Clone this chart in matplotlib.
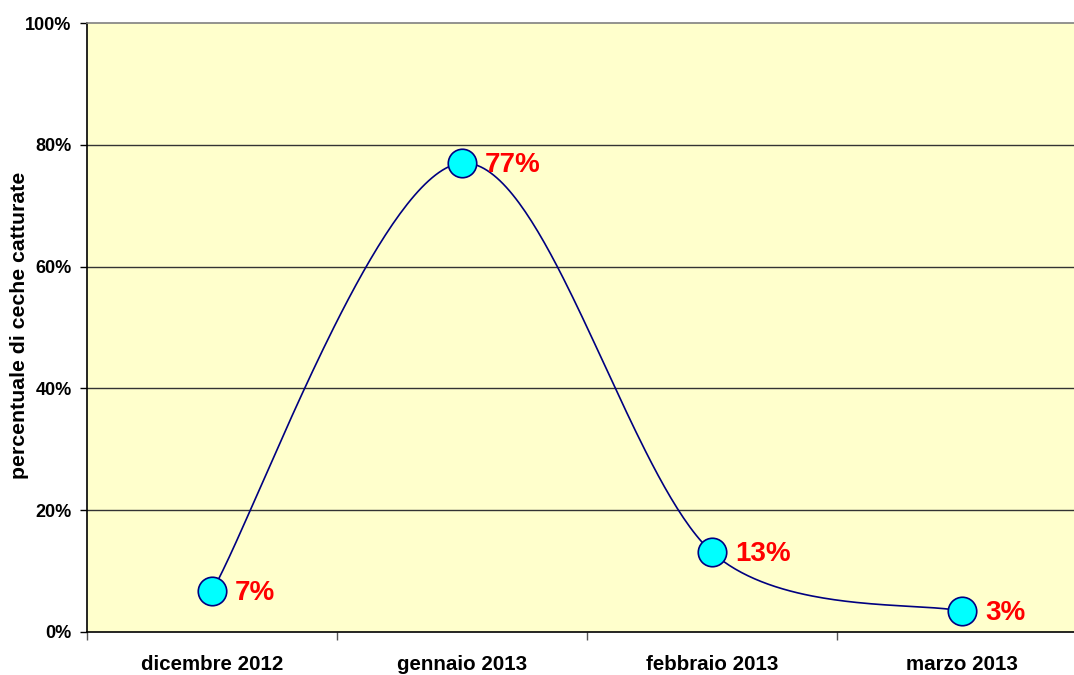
import numpy as np
import matplotlib
matplotlib.use("Agg")
import matplotlib.pyplot as plt
from matplotlib.ticker import FixedLocator, NullFormatter, FixedFormatter

categories = ["dicembre 2012", "gennaio 2013", "febbraio 2013", "marzo 2013"]
values = [6.7, 77.0, 13.1, 3.4]          # percent
labels = ["7%", "77%", "13%", "3%"]
yticks = [0, 20, 40, 60, 80, 100]
ytick_labels = ["0%", "20%", "40%", "60%", "80%", "100%"]
ylabel = "percentuale di ceche catturate"

plt.rcParams['font.family'] = ['Liberation Sans', 'DejaVu Sans']


def excel_smooth(P, n=80, limit=2.75):
    """Excel-like Bezier smoothing of a polyline given in display coords."""
    P = np.asarray(P, dtype=float)
    out = []
    m = len(P)
    for i in range(m - 1):
        p0 = P[i - 1] if i > 0 else P[i]
        p1 = P[i]
        p2 = P[i + 1]
        p3 = P[i + 2] if i + 2 < m else P[i + 1]
        d02 = np.linalg.norm(p2 - p0)
        d12 = np.linalg.norm(p2 - p1)
        d13 = np.linalg.norm(p3 - p1)
        f = min(1 / 6, d12 / (limit * d02)) if d02 > 0 else 1 / 6
        g = min(1 / 6, d12 / (limit * d13)) if d13 > 0 else 1 / 6
        c1 = p1 + (p2 - p0) * f
        c2 = p2 - (p3 - p1) * g
        t = np.linspace(0, 1, n)[:, None]
        seg = ((1 - t) ** 3) * p1 + 3 * ((1 - t) ** 2) * t * c1 \
            + 3 * (1 - t) * t ** 2 * c2 + t ** 3 * p2
        out.append(seg if i == 0 else seg[1:])
    return np.vstack(out)


fig = plt.figure(figsize=(10.74, 6.75), dpi=100)
fig.patch.set_facecolor("white")
ax = fig.add_axes([87 / 1074, 43 / 675, 1000 / 1074, 609 / 675])
ax.set_facecolor("#FFFFCC")

x = np.arange(len(categories))
ax.set_xlim(-0.5, len(categories) - 0.5)
ax.set_ylim(0, 100)

# smooth in display space, then map back to data coordinates
disp = ax.transData.transform(np.column_stack([x, values]))
curve = ax.transData.inverted().transform(excel_smooth(disp))

for yv in yticks[1:-1]:
    ax.axhline(yv, color="#333333", lw=1.0, zorder=1)

ax.plot(curve[:, 0], curve[:, 1], color="#000080", lw=1.2, zorder=3, clip_on=False)
ax.plot(x, values, linestyle="none", marker="o", markersize=20.5,
        markerfacecolor="#00FFFF", markeredgecolor="#000080",
        markeredgewidth=1.2, zorder=4, clip_on=False)

for xi, v, lab in zip(x, values, labels):
    ax.annotate(lab, (xi, v), xytext=(16.5, -1.2), textcoords="offset points",
                ha="left", va="center", color="#FF0000",
                fontsize=20, fontweight="bold", zorder=5)

ax.spines["right"].set_visible(False)
ax.spines["top"].set_color("#808080")
ax.spines["top"].set_linewidth(1.2)
for s in ["left", "bottom"]:
    ax.spines[s].set_color("black")
    ax.spines[s].set_linewidth(1.2)

ax.yaxis.set_major_locator(FixedLocator(yticks))
ax.yaxis.set_major_formatter(FixedFormatter(ytick_labels))
ax.tick_params(axis="y", which="major", direction="out", length=5, width=1,
               labelsize=13, pad=6)
for t in ax.get_yticklabels():
    t.set_fontweight("bold")

ax.xaxis.set_major_locator(FixedLocator(np.arange(-0.5, len(categories), 1.0)))
ax.xaxis.set_major_formatter(NullFormatter())
ax.xaxis.set_minor_locator(FixedLocator(x))
ax.xaxis.set_minor_formatter(FixedFormatter(categories))
ax.tick_params(axis="x", which="major", direction="out", length=6, width=1,
               color="#555555")
ax.tick_params(axis="x", which="minor", length=0, labelsize=14.8, pad=16.8)
for t in ax.get_xminorticklabels():
    t.set_fontweight("bold")

fig.text(20 / 1074, 1 - 325 / 675, ylabel, rotation=90, ha="center", va="center",
         fontsize=15.3, fontweight="bold")

fig.savefig("out.png", dpi=100)
